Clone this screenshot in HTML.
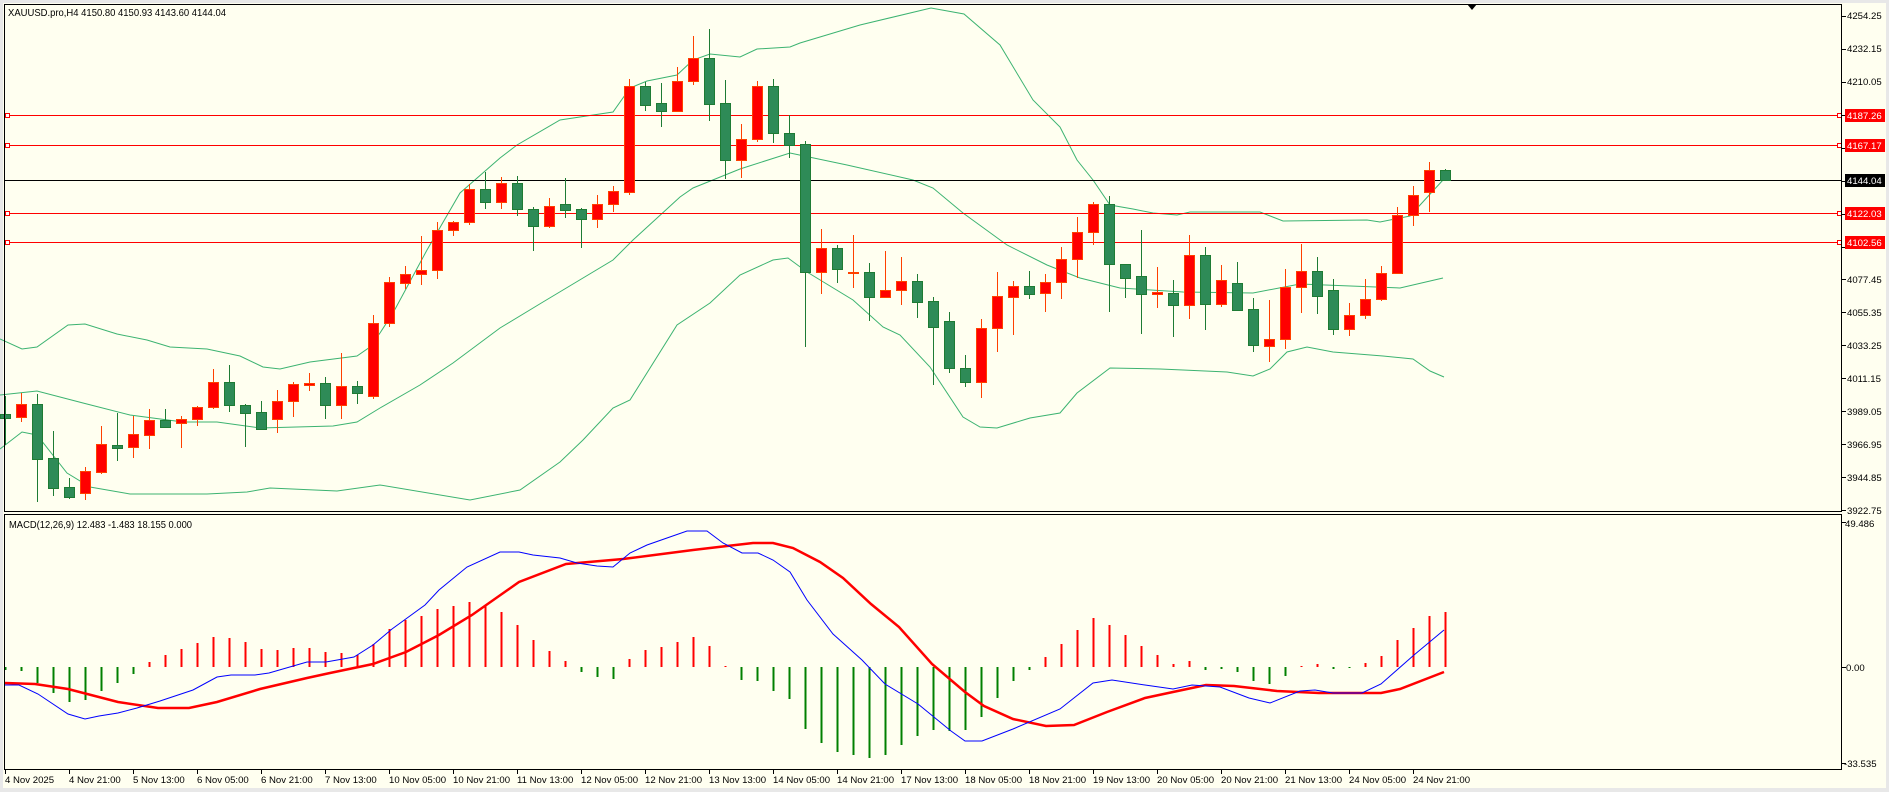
<!DOCTYPE html>
<html><head><meta charset="utf-8"><style>
html,body{margin:0;padding:0;background:#f0f0f0;}
svg{display:block;font-family:"Liberation Sans",sans-serif;}
text{font-size:9.6px;fill:#000;}
</style></head><body>
<svg id="s" width="1889" height="792" viewBox="0 0 1889 792" xmlns="http://www.w3.org/2000/svg">
<rect x="0" y="0" width="1889" height="792" fill="#e8e8e8"/>
<rect x="3" y="3" width="1883" height="785" fill="#fffff0"/>
<g id="bands" fill="none" stroke="#3cb371" stroke-width="1">
<polyline points="0,339 22,349 37,347 68,325 85,324 117,334 147,340 170,347 207,349 240,356 263,367 280,369 310,362 357,356 370,347 380,333 393,313 427,250 460,193 500,158 517,145 560,120 613,112 630,88 647,81 677,75 693,60 710,54 740,57 757,49 790,47 800,43 860,25 931,8 964,14 1000,45 1033,100 1060,127 1077,160 1093,180 1110,205 1133,209 1153,213 1177,215 1190,212 1260,212 1283,221 1367,220 1380,222 1410,216 1443,180"/>
<polyline points="0,395 37,391 83,403 130,415 183,422 217,422 260,428 333,426 357,422 380,408 420,385 453,363 500,328 543,302 613,260 633,240 680,197 693,188 740,169 790,153 847,165 913,180 933,188 963,213 1007,245 1047,265 1080,278 1120,288 1183,292 1253,293 1300,284 1400,288 1443,278"/>
<polyline points="0,449 22,432 37,435 67,473 90,487 130,494 207,494 247,492 270,488 337,491 380,485 470,500 520,490 560,462 583,440 613,408 630,400 677,325 710,303 740,275 773,260 788,258 807,272 853,300 883,327 900,335 930,367 963,417 980,427 997,428 1030,418 1060,413 1077,393 1110,368 1160,369 1183,370 1227,372 1253,376 1270,369 1287,352 1307,347 1333,352 1383,356 1413,359 1430,371 1444,377"/>
</g>
<g id="hl">
<line x1="5" y1="115.5" x2="1842" y2="115.5" stroke="#ff0000"/>
<line x1="5" y1="145.5" x2="1842" y2="145.5" stroke="#ff0000"/>
<line x1="5" y1="180.5" x2="1842" y2="180.5" stroke="#000"/>
<line x1="5" y1="213.5" x2="1842" y2="213.5" stroke="#ff0000"/>
<line x1="5" y1="242.5" x2="1842" y2="242.5" stroke="#ff0000"/>
<g fill="#fff" stroke="#ff0000">
<rect x="5.5" y="113.5" width="4" height="4"/><rect x="5.5" y="143.5" width="4" height="4"/><rect x="5.5" y="211.5" width="4" height="4"/><rect x="5.5" y="240.5" width="4" height="4"/>
<rect x="1837.5" y="113.5" width="4" height="4"/><rect x="1837.5" y="143.5" width="4" height="4"/><rect x="1837.5" y="211.5" width="4" height="4"/><rect x="1837.5" y="240.5" width="4" height="4"/>
</g>
</g>
<g id="candles"></g>
<g id="macd"></g>
<polyline fill="none" stroke="#ff0000" stroke-width="2.5" points="5,683 35,684 68,689 118,702 158,708 189,708 217,702 260,689 307,678 330,673 373,664 406,652 439,635 472,615 519,582 566,564 623,559 693,550 727,546 753,543 773,543 793,548 820,562 843,578 871,604 899,627 932,664 965,692 984,706 1013,719 1046,726 1074,725 1107,712 1145,698 1173,692 1206,685 1234,686 1277,691 1319,693 1381,693 1400,689 1444,672"/>
<polyline fill="none" stroke="#0000ff" stroke-width="1" points="5,685 19,685 38,694 68,714 85,719 99,716 118,713 137,708 160,701 193,690 217,677 231,675 255,675 269,673 307,662 326,662 354,657 373,645 392,629 425,605 439,590 467,567 500,552 519,552 533,555 560,558 577,563 597,566 613,567 630,553 647,545 667,538 687,531 707,531 723,543 742,553 758,553 773,560 790,572 807,600 833,634 862,660 885,684 918,704 951,731 965,741 982,741 1013,729 1060,709 1093,683 1112,680 1145,685 1173,689 1192,685 1220,687 1249,698 1270,703 1300,691 1315,690 1333,693 1362,693 1381,684 1414,655 1444,630"/>
<rect x="4.5" y="4.5" width="1837" height="507" fill="none" stroke="#000"/>
<rect x="4.5" y="514.5" width="1837" height="255" fill="none" stroke="#000"/>
<polygon points="1467,4 1477,4 1472,10" fill="#000"/>
<text x="8" y="16" textLength="218" lengthAdjust="spacingAndGlyphs" style="font-size:10.5px">XAUUSD.pro,H4  4150.80 4150.93 4143.60 4144.04</text>
<text x="9" y="528" textLength="183" lengthAdjust="spacingAndGlyphs" style="font-size:10.5px">MACD(12,26,9) 12.483 -1.483 18.155 0.000</text>
<g id="pticks" stroke="#000"></g>
<g>
<text x="1847" y="19">4254.25</text>
<text x="1847" y="52">4232.15</text>
<text x="1847" y="85">4210.05</text>
<text x="1847" y="283">4077.45</text>
<text x="1847" y="316">4055.35</text>
<text x="1847" y="349">4033.25</text>
<text x="1847" y="382">4011.15</text>
<text x="1847" y="415">3989.05</text>
<text x="1847" y="448">3966.95</text>
<text x="1847" y="481">3944.85</text>
<text x="1847" y="514">3922.75</text>
<rect x="1845" y="109" width="40" height="13" fill="#ff0000"/><text x="1847" y="119" style="fill:#fff">4187.26</text>
<rect x="1845" y="139" width="40" height="13" fill="#ff0000"/><text x="1847" y="149" style="fill:#fff">4167.17</text>
<rect x="1845" y="174" width="40" height="13" fill="#000"/><text x="1847" y="184" style="fill:#fff">4144.04</text>
<rect x="1845" y="207" width="40" height="13" fill="#ff0000"/><text x="1847" y="217" style="fill:#fff">4122.03</text>
<rect x="1845" y="236" width="40" height="13" fill="#ff0000"/><text x="1847" y="246" style="fill:#fff">4102.56</text>
<text x="1845" y="527">49.486</text>
<text x="1846" y="671">0.00</text>
<text x="1844" y="767">-33.535</text>
</g>
<g id="xl"></g>
</svg>
<script>
var NS="http://www.w3.org/2000/svg";
function el(p,t,a){var e=document.createElementNS(NS,t);for(var k in a)e.setAttribute(k,a[k]);p.appendChild(e);return e;}
var C=[['G',414,418,396,445],['R',404,417,393,422],['G',404,459,394,502],['G',458,488,431,496],['G',487,497,478,499],['R',471,493,467,500],['R',444,472,426,474],['G',445,448,413,461],['R',434,447,416,458],['R',420,435,409,449],['G',420,427,409,428],['R',419,423,416,448],['R',407,419,406,426],['R',382,407,369,409],['G',382,405,365,412],['G',405,413,404,447],['G',412,429,401,430],['R',401,419,390,433],['R',384,401,382,417],['R',383,385,373,391],['G',383,405,377,419],['R',386,405,353,419],['G',386,393,381,404],['R',323,396,315,399],['R',282,323,277,327],['R',274,283,266,289],['R',270,274,236,285],['R',230,270,222,279],['R',222,230,221,236],['R',189,222,184,225],['G',189,202,172,209],['R',183,202,177,209],['G',183,209,176,216],['G',209,226,207,251],['R',206,226,198,228],['G',204,210,178,218],['G',209,219,208,248],['R',204,219,195,228],['R',191,204,186,212],['R',86,192,79,195],['G',86,105,82,111],['G',103,111,83,127],['R',81,111,67,111],['R',58,81,36,85],['G',58,104,29,121],['G',103,160,80,179],['R',139,160,124,178],['R',86,139,81,142],['G',86,133,79,143],['G',133,145,115,158],['G',144,272,141,347],['R',248,272,229,294],['G',248,269,245,283],['R',272,273,235,288],['G',272,297,263,321],['R',290,297,251,298],['R',281,290,257,305],['G',281,302,274,318],['G',301,327,297,385],['G',321,368,312,373],['G',368,382,355,387],['R',328,382,319,398],['R',296,328,272,352],['R',286,297,281,335],['G',286,294,271,299],['R',282,293,274,312],['R',259,282,247,299],['R',232,259,217,278],['R',204,232,202,245],['G',204,264,196,312],['G',264,278,264,298],['G',276,294,230,334],['R',292,294,267,308],['G',293,305,280,337],['R',255,305,235,319],['G',255,304,247,330],['R',280,304,265,307],['G',283,310,262,311],['G',309,345,298,352],['R',339,346,300,362],['R',287,339,269,349],['R',271,287,244,313],['G',271,296,257,314],['G',290,329,279,335],['R',315,329,303,336],['R',299,315,279,319],['R',273,299,266,301],['R',215,273,207,273],['R',195,215,186,226],['R',170,192,162,212],['G',170,180,169,180]];
var cg=document.getElementById('candles');
for(var i=0;i<C.length;i++){var c=C[i],x=5+16*i;var up=c[0]=='R';var st=up?'#ff4000':'#1e7b34',fl=up?'#ff0000':'#2e8b57';
el(cg,'line',{x1:x+.5,x2:x+.5,y1:c[3],y2:c[4],stroke:st,'stroke-width':1});
var h=Math.max(1,c[2]-c[1]);el(cg,'rect',{x:x-4.5,y:c[1]+.5,width:10,height:h,fill:fl,stroke:st,'stroke-width':1});}
var H=[670,671,683,693,702,700,691,683,674,662,655,649,643,637,638,642,649,650,648,648,652,653,655,644,629,620,616,609,606,602,606,612,625,640,651,661,672,677,679,659,650,647,642,637,646,666,680,681,691,699,729,743,752,755,758,755,745,736,730,731,730,717,698,681,670,657,644,630,618,625,635,646,655,664,661,670,669,672,681,684,676,666,664,669,668,663,656,640,628,616,612];
var mg=document.getElementById('macd');
for(var i=0;i<H.length;i++){var x=5+16*i,y=H[i];var g=y>667;
el(mg,'rect',{x:x-0.5,y:Math.min(667,y),width:2,height:Math.max(1,Math.abs(y-667)),fill:g?'#008000':'#ff0000'});}
var pt=document.getElementById('pticks');
for(var k=0;k<16;k++){var y=16+k*32.93;el(pt,'line',{x1:1842,x2:1846,y1:Math.round(y)+.5,y2:Math.round(y)+.5});}
[522,667,763].forEach(function(y){el(pt,'line',{x1:1842,x2:1846,y1:y+.5,y2:y+.5});});
var L=["4 Nov 2025","4 Nov 21:00","5 Nov 13:00","6 Nov 05:00","6 Nov 21:00","7 Nov 13:00","10 Nov 05:00","10 Nov 21:00","11 Nov 13:00","12 Nov 05:00","12 Nov 21:00","13 Nov 13:00","14 Nov 05:00","14 Nov 21:00","17 Nov 13:00","18 Nov 05:00","18 Nov 21:00","19 Nov 13:00","20 Nov 05:00","20 Nov 21:00","21 Nov 13:00","24 Nov 05:00","24 Nov 21:00"];
var xl=document.getElementById('xl');
for(var k=0;k<L.length;k++){var x=5+64*k;el(xl,'line',{x1:x+.5,x2:x+.5,y1:770,y2:774,stroke:'#000'});var t=el(xl,'text',{x:x,y:783});t.textContent=L[k];}
</script>
</body></html>
